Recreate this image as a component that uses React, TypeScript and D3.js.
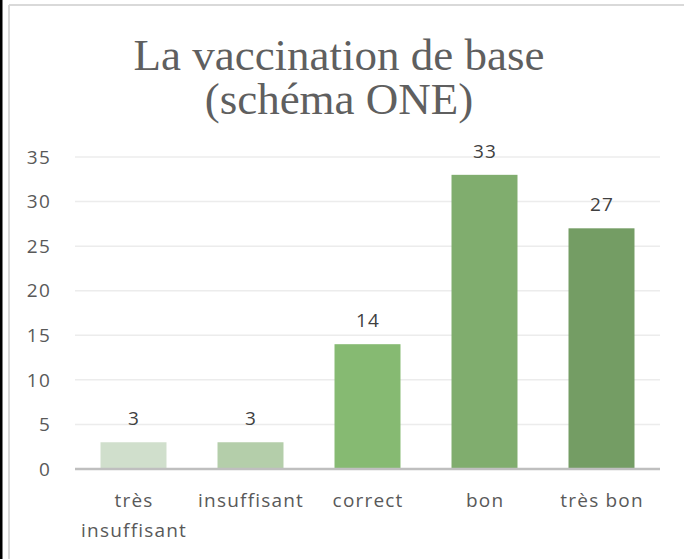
import React from "react";
import * as d3 from "d3";

const categories: string[][] = [["très", "insuffisant"], ["insuffisant"], ["correct"], ["bon"], ["très bon"]];
const values: number[] = [3, 3, 14, 33, 27];
const barColors: string[] = ["#d0dfcc", "#b4ceaa", "#86ba72", "#80ad6e", "#749d64"];
const yTicks: number[] = [0, 5, 10, 15, 20, 25, 30, 35];
const titleLines: string[] = ["La vaccination de base", "(schéma ONE)"];

export default function App() {
  const W = 684, H = 559;
  const x0 = 75, x1 = 660;
  const x = d3.scaleBand<number>().domain(d3.range(values.length)).range([x0, x1]).paddingInner(0.436).paddingOuter(0.218);
  const y = d3.scaleLinear().domain([0, 35]).range([469, 157]);
  const font = "'Open Sans', 'Noto Sans', sans-serif";
  const ls = 1.2;
  return (
    <svg width={W} height={H} style={{ position: "absolute", left: 0, top: 0, background: "#fff" }}>
      <rect x={0} y={0} width={W} height={H} fill="#fff" />
      <rect x={0} y={0} width={2.5} height={H} fill="#000" />
      <line x1={9} y1={5} x2={9} y2={H} stroke="#d9d9d9" strokeWidth={2} />
      <line x1={9} y1={5} x2={W} y2={5} stroke="#d9d9d9" strokeWidth={2} />
      {titleLines.map((t, i) => (
        <text key={i} x={339} y={70 + i * 44} textAnchor="middle" fontFamily="'Liberation Serif', 'DejaVu Serif', serif" fontSize={45} fill="#5f5f5f">{t}</text>
      ))}
      {yTicks.map((t) => (
        <g key={t}>
          {t > 0 && <line x1={x0} x2={x1} y1={y(t)} y2={y(t)} stroke="#ececec" strokeWidth={1.5} />}
          <text x={51} y={y(t)} dy="0.35em" textAnchor="end" fontFamily={font} fontSize={19} letterSpacing={ls} fill="#595959">{t}</text>
        </g>
      ))}
      {values.map((v, i) => (
        <g key={i}>
          <rect x={x(i)} y={y(v)} width={x.bandwidth()} height={y(0) - y(v)} fill={barColors[i]} />
          <text x={(x(i) as number) + x.bandwidth() / 2 + ls / 2} y={y(v) - 17} textAnchor="middle" fontFamily={font} fontSize={19} letterSpacing={ls} fill="#404040">{v}</text>
        </g>
      ))}
      <line x1={x0} x2={x1} y1={y(0)} y2={y(0)} stroke="#bfbfbf" strokeWidth={2.5} />
      {categories.map((lines, i) => (
        <text key={i} textAnchor="middle" fontFamily={font} fontSize={19} letterSpacing={ls} fill="#595959">
          {lines.map((l, j) => (
            <tspan key={j} x={(x(i) as number) + x.bandwidth() / 2 + ls / 2} y={507 + j * 30}>{l}</tspan>
          ))}
        </text>
      ))}
    </svg>
  );
}
